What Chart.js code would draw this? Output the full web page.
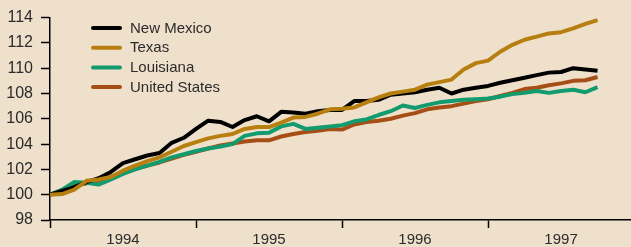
<!DOCTYPE html>
<html>
<head>
<meta charset="utf-8">
<script src="https://cdn.jsdelivr.net/npm/chart.js@4/dist/chart.umd.min.js"></script>
<style>
  html, body { margin: 0; padding: 0; background: #efe0cb; }
  #wrap { width: 631px; height: 247px; }
</style>
</head>
<body>
<div id="wrap"><canvas id="indexChart" width="631" height="247"></canvas></div>
<script>
// monthly index, Jan 1994 = 100, through Oct 1997
var months = [];
['1994', '1995', '1996', '1997'].forEach(function(y) {
  ['01','02','03','04','05','06','07','08','09','10','11','12'].forEach(function(m) {
    months.push(y + '-' + m);
  });
});
months = months.slice(0, 46);

var years = ['1994', '1995', '1996', '1997'];
var yTicks = [98, 100, 102, 104, 106, 108, 110, 112, 114];

var newMexico = [100.0, 100.3, 100.6, 101.0, 101.3, 101.8, 102.5, 102.8, 103.1, 103.3, 104.1, 104.5,
  105.2, 105.85, 105.75, 105.35, 105.9, 106.2, 105.8, 106.55, 106.5, 106.4, 106.6, 106.7,
  106.7, 107.4, 107.4, 107.5, 107.9, 108.0, 108.1, 108.3, 108.45, 108.0, 108.3, 108.45,
  108.6, 108.85, 109.05, 109.25, 109.45, 109.65, 109.7, 110.0, 109.9, 109.8];

var texas = [100.0, 100.05, 100.4, 101.1, 101.2, 101.4, 101.9, 102.3, 102.65, 102.95, 103.4, 103.85,
  104.15, 104.45, 104.65, 104.8, 105.2, 105.35, 105.35, 105.7, 106.1, 106.15, 106.4, 106.75,
  106.8, 106.9, 107.3, 107.7, 108.0, 108.15, 108.3, 108.7, 108.9, 109.1, 109.9, 110.4,
  110.6, 111.3, 111.85, 112.25, 112.5, 112.75, 112.85, 113.15, 113.5, 113.8];

var louisiana = [100.0, 100.4, 101.0, 100.95, 100.8, 101.2, 101.65, 102.0, 102.3, 102.6, 102.95, 103.2,
  103.45, 103.65, 103.8, 104.0, 104.65, 104.85, 104.9, 105.4, 105.6, 105.2, 105.3, 105.4,
  105.5, 105.8, 105.95, 106.3, 106.6, 107.05, 106.85, 107.1, 107.3, 107.4, 107.5, 107.55,
  107.6, 107.75, 107.95, 108.05, 108.2, 108.05, 108.2, 108.3, 108.1, 108.5];

var unitedStates = [100.0, 100.3, 100.7, 100.9, 101.1, 101.4, 101.75, 102.05, 102.3, 102.55, 102.85, 103.15,
  103.4, 103.65, 103.9, 104.05, 104.2, 104.3, 104.3, 104.6, 104.8, 104.95, 105.05, 105.2,
  105.15, 105.55, 105.75, 105.85, 106.0, 106.25, 106.45, 106.75, 106.9, 107.0, 107.2, 107.4,
  107.55, 107.8, 108.05, 108.35, 108.45, 108.65, 108.8, 109.0, 109.05, 109.3];

var FONT = "'Liberation Sans', Arial, sans-serif";
var TEXT = '#2b2b2b';

function toPoints(values) {
  return values.map(function(v, i) { return { x: i, y: v }; });
}

// legend drawn inside the plot, top-left
var insideLegend = {
  id: 'insideLegend',
  afterDraw: function(chart) {
    var ctx = chart.ctx;
    ctx.save();
    ctx.font = '15px ' + FONT;
    ctx.textBaseline = 'middle';
    ctx.lineCap = 'round';
    chart.data.datasets.forEach(function(ds, i) {
      var y = 28 + i * 19.7;
      ctx.strokeStyle = ds.borderColor;
      ctx.lineWidth = 4;
      ctx.beginPath();
      ctx.moveTo(93, y);
      ctx.lineTo(120, y);
      ctx.stroke();
      ctx.fillStyle = TEXT;
      ctx.fillText(ds.label, 130, y + 0.5);
    });
    ctx.restore();
  }
};

var ctx = document.getElementById('indexChart').getContext('2d');
var chart = new Chart(ctx, {
  type: 'line',
  data: {
    datasets: [
      { label: 'New Mexico', data: toPoints(newMexico), borderColor: '#000000', order: 1 },
      { label: 'Texas', data: toPoints(texas), borderColor: '#b67f0f', order: 0 },
      { label: 'Louisiana', data: toPoints(louisiana), borderColor: '#139b70', order: 2 },
      { label: 'United States', data: toPoints(unitedStates), borderColor: '#a54f16', order: 3 }
    ]
  },
  options: {
    responsive: false,
    animation: false,
    layout: { padding: { top: 16, right: 0, left: 0, bottom: 0 } },
    elements: {
      point: { radius: 0 },
      line: { borderWidth: 4, tension: 0, borderJoinStyle: 'round' }
    },
    plugins: {
      legend: { display: false },
      tooltip: { enabled: false }
    },
    scales: {
      x: {
        type: 'linear',
        min: 0,
        max: 47.75,
        afterBuildTicks: function(scale) {
          scale.ticks = [0, 6, 12, 18, 24, 30, 36, 42].map(function(v) { return { value: v }; });
        },
        afterFit: function(scale) { scale.height = 27; },
        border: { color: '#000', width: 1.5 },
        grid: {
          drawOnChartArea: false,
          tickLength: 8,
          tickWidth: 1.5,
          tickColor: function(c) { return c.tick && c.tick.value % 12 === 0 ? '#000' : 'rgba(0,0,0,0)'; }
        },
        ticks: {
          autoSkip: false,
          maxRotation: 0,
          padding: 3,
          color: TEXT,
          font: { family: FONT, size: 15 },
          callback: function(v) { return v % 12 === 6 ? years[(v - 6) / 12] : ''; }
        }
      },
      y: {
        min: yTicks[0],
        max: yTicks[yTicks.length - 1],
        afterBuildTicks: function(scale) {
          scale.ticks = yTicks.map(function(v) { return { value: v }; });
        },
        afterFit: function(scale) { scale.width = 50; },
        border: { color: '#000', width: 1.5 },
        grid: { drawOnChartArea: false, tickLength: 9, tickWidth: 1.5, tickColor: '#000' },
        ticks: {
          padding: 8,
          color: TEXT,
          font: { family: FONT, size: 16 }
        }
      }
    }
  },
  plugins: [insideLegend]
});
</script>
</body>
</html>
